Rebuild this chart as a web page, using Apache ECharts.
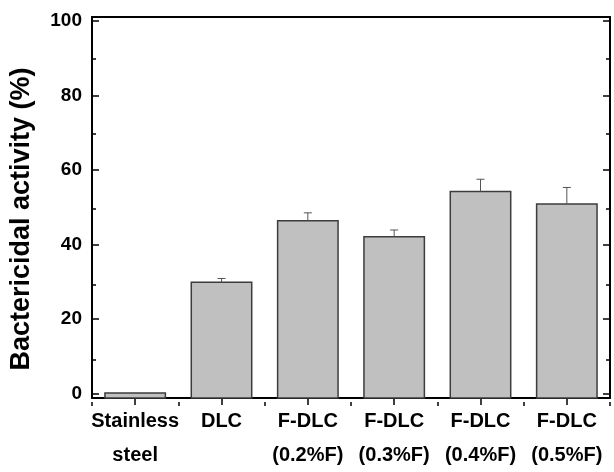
<!DOCTYPE html>
<html>
<head>
<meta charset="utf-8">
<script src="https://cdn.jsdelivr.net/npm/echarts@6/dist/echarts.min.js"></script>
<style>
  html, body { margin: 0; padding: 0; background: #fff; }
  #chart { width: 614px; height: 472px; }
</style>
</head>
<body>
<div id="chart"></div>
<script>
// ---- data ----
const categories = ['Stainless\nsteel', 'DLC', 'F-DLC\n(0.2%F)', 'F-DLC\n(0.3%F)', 'F-DLC\n(0.4%F)', 'F-DLC\n(0.5%F)'];
const activity = [0.2, 29.9, 46.4, 42.1, 54.2, 50.9];
const errors = [0, 1.0, 2.1, 1.8, 3.3, 4.4];
const yMajorTicks = [0, 20, 40, 60, 80, 100];
const yMinorTicks = [10, 30, 50, 70, 90];
const yTitle = 'Bactericidal activity (%)';

const Y_MIN = -1.14, Y_MAX = 101;
const FONT = '"Liberation Sans", Arial, sans-serif';

const chart = echarts.init(document.getElementById('chart'), null, { renderer: 'canvas' });

const seriesData = activity.map((v, i) => [i, v, errors[i]]);

function renderBar(params, api) {
  const i = api.value(0);
  const v = api.value(1);
  const e = api.value(2);
  const base = api.coord([i, Y_MIN]);
  const top = api.coord([i, v]);
  const bw = api.size([1, 0])[0] * 0.7;
  const children = [{
    type: 'rect',
    shape: { x: top[0] - bw / 2, y: top[1], width: bw, height: base[1] - top[1] },
    style: { fill: '#c0c0c0', stroke: '#3c3c3c', lineWidth: 1.5 }
  }];
  if (e > 0) {
    const et = api.coord([i, v + e]);
    children.push({
      type: 'line', shape: { x1: top[0], y1: top[1], x2: et[0], y2: et[1] },
      style: { stroke: '#555', lineWidth: 1 }
    });
    children.push({
      type: 'line', shape: { x1: et[0] - 4, y1: et[1], x2: et[0] + 4, y2: et[1] },
      style: { stroke: '#555', lineWidth: 1 }
    });
  }
  return { type: 'group', children: children };
}

const gridRect = { left: 92, right: 4, top: 17, bottom: 70, containLabel: false };
const tickStyle = { color: '#000', width: 1.5 };
const lineStyle = { color: '#000', width: 2 };

function yAxisDef(gridIndex, position, ticks, len, showLine, showLabel) {
  return {
    type: 'value', gridIndex: gridIndex, position: position, min: Y_MIN, max: Y_MAX,
    axisLine: { show: showLine, onZero: false, lineStyle: lineStyle },
    axisTick: { show: true, inside: true, length: len, lineStyle: tickStyle, customValues: ticks },
    axisLabel: showLabel
      ? { show: true, customValues: ticks, color: '#000', fontFamily: FONT, fontWeight: 'bold', fontSize: 19, margin: 10 }
      : { show: false },
    splitLine: { show: false }
  };
}

const option = {
  animation: false,
  backgroundColor: '#fff',
  grid: [gridRect, Object.assign({}, gridRect)],
  xAxis: [
    {
      type: 'category', gridIndex: 0, data: categories, position: 'bottom', boundaryGap: true,
      axisLine: { show: true, onZero: false, lineStyle: lineStyle },
      axisTick: { show: true, alignWithLabel: true, inside: false, length: 7, lineStyle: tickStyle },
      axisLabel: { interval: 0, color: '#000', fontFamily: FONT, fontWeight: 'bold', fontSize: 20, lineHeight: 34, margin: 6 },
      splitLine: { show: false }
    },
    {
      type: 'category', gridIndex: 0, data: categories, position: 'top',
      axisLine: { show: true, onZero: false, lineStyle: lineStyle },
      axisTick: { show: false }, axisLabel: { show: false }, splitLine: { show: false }
    },
    {
      type: 'category', gridIndex: 1, data: categories, position: 'bottom', boundaryGap: true,
      axisLine: { show: false, onZero: false },
      axisTick: { show: true, alignWithLabel: false, inside: false, length: 4, lineStyle: tickStyle },
      axisLabel: { show: false }, splitLine: { show: false }
    },
    {
      type: 'category', gridIndex: 1, data: categories, position: 'top',
      axisLine: { show: false, onZero: false }, axisTick: { show: false }, axisLabel: { show: false }, splitLine: { show: false }
    }
  ],
  yAxis: [
    yAxisDef(0, 'left', yMajorTicks, 7, true, true),
    yAxisDef(0, 'right', yMajorTicks, 7, true, false),
    yAxisDef(1, 'left', yMinorTicks, 4, false, false),
    yAxisDef(1, 'right', yMinorTicks, 4, false, false)
  ],
  graphic: [
    {
      type: 'text', x: 22, y: 219, rotation: Math.PI / 2,
      style: { text: yTitle, fill: '#000', font: 'bold 27px ' + FONT, textAlign: 'center', textVerticalAlign: 'middle' }
    }
  ],
  series: [
    {
      type: 'custom', xAxisIndex: 0, yAxisIndex: 0,
      renderItem: renderBar, data: seriesData,
      encode: { x: 0, y: 1 }, clip: false
    }
  ]
};
chart.setOption(option);
</script>
</body>
</html>
